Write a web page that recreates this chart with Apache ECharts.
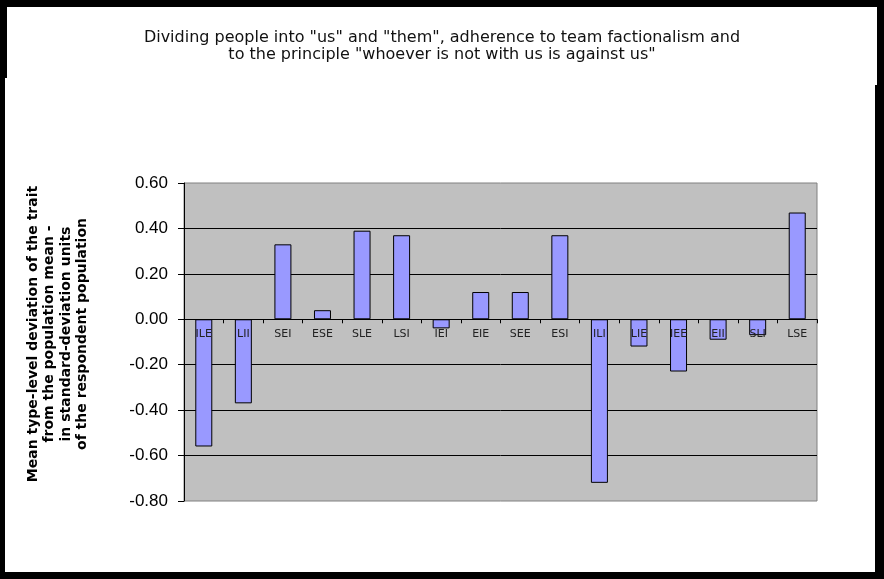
<!DOCTYPE html>
<html>
<head>
<meta charset="utf-8">
<script src="https://cdn.jsdelivr.net/npm/echarts@6/dist/echarts.min.js"></script>
<style>
  html, body { margin: 0; padding: 0; background: #000; }
  #wrap { position: relative; width: 884px; height: 579px; overflow: hidden; }
  .paper { position: absolute; background: #fff; }
  #chart { position: absolute; left: 0; top: 0; width: 884px; height: 579px; }
</style>
</head>
<body>
<div id="wrap">
  <div class="paper" style="left:7px; top:7px; width:870px; height:78px;"></div>
  <div class="paper" style="left:5px; top:78px; width:870px; height:494px;"></div>
  <div id="chart"></div>
</div>
<script>
// sociotypes in the order they appear on the x axis
const types = ["ILE", "LII", "SEI", "ESE", "SLE", "LSI", "IEI", "EIE",
  "SEE", "ESI", "ILI", "LIE", "IEE", "EII", "SLI", "LSE"];

// mean deviation from population mean, in SD units
const deviation = [-0.56, -0.37, 0.33, 0.04, 0.39, 0.37, -0.04, 0.12,
  0.12, 0.37, -0.72, -0.12, -0.23, -0.09, -0.07, 0.47];

const yMin = -0.8;
const yMax = 0.6;
const yStep = 0.2;

const titleLines = [
  'Dividing people into "us" and "them", adherence to team factionalism and',
  'to the principle "whoever is not with us is against us"'
];

const yNameLines = [
  "Mean type-level deviation of the trait",
  "from the population mean -",
  "in standard-deviation units",
  "of the respondent population"
];

const chart = echarts.init(document.getElementById("chart"), null, { renderer: "canvas" });

chart.setOption({
  backgroundColor: "transparent",
  animation: false,
  title: {
    text: titleLines.join("\n"),
    left: "center",
    top: 29,
    padding: 0,
    textStyle: {
      fontFamily: "DejaVu Sans",
      fontSize: 16,
      fontWeight: "normal",
      color: "#111",
      lineHeight: 17
    }
  },
  graphic: [{
    type: "text",
    x: 58,
    y: 334,
    rotation: Math.PI / 2,
    style: {
      text: yNameLines.join("\n"),
      font: "bold 14px 'DejaVu Sans'",
      fill: "#000",
      align: "center",
      verticalAlign: "middle",
      lineHeight: 16.5
    }
  }],
  grid: {
    left: 184,
    top: 183,
    right: 67,
    bottom: 78,
    show: true,
    backgroundColor: "#c0c0c0",
    borderColor: "#808080",
    borderWidth: 1
  },
  xAxis: {
    type: "category",
    data: types,
    z: 5,
    axisLine: { onZero: true, lineStyle: { color: "#000", width: 1 } },
    axisTick: { show: true, interval: 0, length: 4, lineStyle: { color: "#000" } },
    axisLabel: {
      interval: 0,
      margin: -172,
      fontFamily: "DejaVu Sans",
      fontSize: 11,
      color: "#222"
    },
    splitLine: { show: false }
  },
  yAxis: {
    type: "value",
    min: yMin,
    max: yMax,
    interval: yStep,
    axisLine: { show: true, lineStyle: { color: "#000", width: 1 } },
    axisTick: { show: true, length: 6, lineStyle: { color: "#000" } },
    axisLabel: {
      margin: 16,
      fontFamily: "Liberation Sans",
      fontSize: 17,
      color: "#000",
      formatter: v => v.toFixed(2)
    },
    splitLine: {
      show: true,
      showMinLine: false,
      showMaxLine: false,
      lineStyle: { color: "#000", width: 1 }
    }
  },
  series: [{
    type: "bar",
    data: deviation,
    barWidth: 17,
    itemStyle: {
      color: "#9999ff",
      borderColor: "#000",
      borderWidth: 1
    }
  }]
});
</script>
</body>
</html>
